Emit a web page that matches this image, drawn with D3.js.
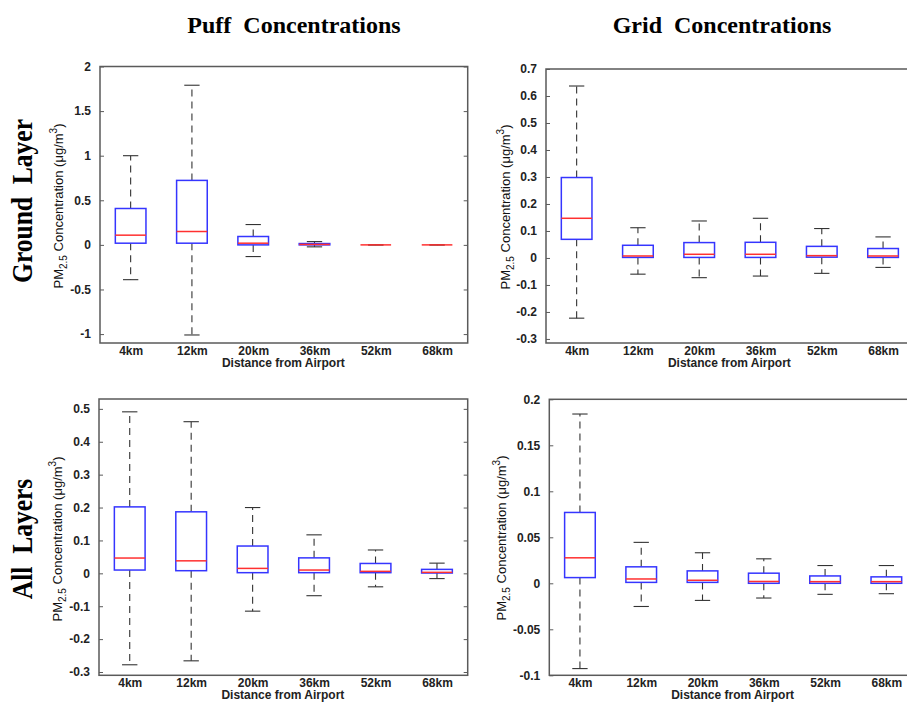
<!DOCTYPE html>
<html>
<head>
<meta charset="utf-8">
<script src="https://cdn.jsdelivr.net/npm/d3@7/dist/d3.min.js"></script>
<style>
  html, body { margin: 0; padding: 0; background: #fff; }
  svg { display: block; }
</style>
</head>
<body>
<script>
// ---------------- DATA ----------------
const categories = ["4km", "12km", "20km", "36km", "52km", "68km"];
const columnTitles = ["Puff  Concentrations", "Grid  Concentrations"];
const rowTitles = ["Ground  Layer", "All  Layers"];
const xAxisTitle = "Distance from Airport";

// Puff, Ground Layer
const puffGroundUpper  = [1.00, 1.79, 0.228, 0.037, 0, 0];
const puffGroundQ3     = [0.408, 0.723, 0.094, 0.015, 0, 0];
const puffGroundMedian = [0.109, 0.150, 0.019, 0.005, 0, 0];
const puffGroundQ1     = [0.019, 0.019, 0.000, 0.000, 0, 0];
const puffGroundLower  = [-0.39, -1.01, -0.131, -0.022, 0, 0];
const puffGroundTicks  = [-1, -0.5, 0, 0.5, 1, 1.5, 2];

// Grid, Ground Layer
const gridGroundUpper  = [0.637, 0.112, 0.137, 0.147, 0.109, 0.078];
const gridGroundQ3     = [0.298, 0.047, 0.057, 0.058, 0.043, 0.035];
const gridGroundMedian = [0.147, 0.0074, 0.0136, 0.0136, 0.0086, 0.0074];
const gridGroundQ1     = [0.069, 0.002, 0.002, 0.002, 0.003, 0.002];
const gridGroundLower  = [-0.223, -0.060, -0.073, -0.067, -0.057, -0.035];
const gridGroundTicks  = [-0.3, -0.2, -0.1, 0, 0.1, 0.2, 0.3, 0.4, 0.5, 0.6, 0.7];

// Puff, All Layers
const puffAllUpper  = [0.491, 0.461, 0.200, 0.117, 0.071, 0.031];
const puffAllQ3     = [0.202, 0.187, 0.083, 0.047, 0.030, 0.012];
const puffAllMedian = [0.0465, 0.038, 0.015, 0.010, 0.006, 0.003];
const puffAllQ1     = [0.010, 0.008, 0.002, 0.002, 0.002, 0.001];
const puffAllLower  = [-0.278, -0.266, -0.115, -0.068, -0.041, -0.016];
const puffAllTicks  = [-0.3, -0.2, -0.1, 0, 0.1, 0.2, 0.3, 0.4, 0.5];

// Grid, All Layers
const gridAllUpper  = [0.184, 0.0445, 0.0332, 0.0266, 0.0193, 0.0193];
const gridAllQ3     = [0.077, 0.0179, 0.0135, 0.0110, 0.0080, 0.0070];
const gridAllMedian = [0.0277, 0.0047, 0.0033, 0.0020, 0.0018, 0.0018];
const gridAllQ1     = [0.0062, 0.0010, 0.0010, 0.0000, 0.0000, 0.0000];
const gridAllLower  = [-0.0927, -0.0252, -0.0186, -0.0160, -0.0120, -0.0113];
const gridAllTicks  = [-0.1, -0.05, 0, 0.05, 0.1, 0.15, 0.2];

// ---------------- LAYOUT ----------------
const W = 907, H = 703;
const panels = [
  { upper: puffGroundUpper, q3: puffGroundQ3, med: puffGroundMedian, q1: puffGroundQ1, lower: puffGroundLower,
    ticks: puffGroundTicks, domain: [-1.1, 2.0], left: 100, width: 367.7, top: 66.5, bottom: 343, labelOff: 37, labelY: 206 },
  { upper: gridGroundUpper, q3: gridGroundQ3, med: gridGroundMedian, q1: gridGroundQ1, lower: gridGroundLower,
    ticks: gridGroundTicks, domain: [-0.315, 0.7], left: 546, width: 367.7, top: 69, bottom: 343, labelOff: 36, labelY: 207 },
  { upper: puffAllUpper, q3: puffAllQ3, med: puffAllMedian, q1: puffAllQ1, lower: puffAllLower,
    ticks: puffAllTicks, domain: [-0.31, 0.53], left: 99, width: 368.7, top: 399, bottom: 675.3, labelOff: 37, labelY: 539 },
  { upper: gridAllUpper, q3: gridAllQ3, med: gridAllMedian, q1: gridAllQ1, lower: gridAllLower,
    ticks: gridAllTicks, domain: [-0.1, 0.2], left: 549.3, width: 367.7, top: 399.3, bottom: 675.3, labelOff: 43, labelY: 538 }
];

const svg = d3.select("body").append("svg")
  .attr("width", W).attr("height", H)
  .attr("viewBox", `0 0 ${W} ${H}`);

const fmt = v => {
  const s = String(+v.toFixed(4));
  return s;
};

const sansFont = "'Liberation Sans', Arial, sans-serif";
const serifFont = "'Liberation Serif', 'Times New Roman', serif";

// Column titles
svg.append("text").attr("x", 294).attr("y", 33).attr("text-anchor", "middle")
  .attr("font-family", serifFont).attr("font-weight", "bold").attr("font-size", 24)
  .style("white-space", "pre").text(columnTitles[0]);
svg.append("text").attr("x", 722).attr("y", 33).attr("text-anchor", "middle")
  .attr("font-family", serifFont).attr("font-weight", "bold").attr("font-size", 24)
  .style("white-space", "pre").text(columnTitles[1]);

// Row titles (tall, condensed serif)
[[201, 32, rowTitles[0]], [539, 32, rowTitles[1]]].forEach(([cy, bx, t]) => {
  svg.append("text")
    .attr("transform", `translate(${bx},${cy}) rotate(-90) scale(0.88,1)`)
    .attr("text-anchor", "middle")
    .attr("font-family", serifFont).attr("font-weight", "bold").attr("font-size", 29)
    .style("white-space", "pre").text(t);
});

panels.forEach(p => {
  const x = d3.scaleLinear().domain([0.5, categories.length + 0.5]).range([p.left, p.left + p.width]);
  const y = d3.scaleLinear().domain(p.domain).range([p.bottom, p.top]);
  const g = svg.append("g");

  // Frame
  g.append("rect")
    .attr("x", p.left).attr("y", p.top)
    .attr("width", p.width).attr("height", p.bottom - p.top)
    .attr("fill", "none").attr("stroke", "#5a5a5a").attr("stroke-width", 1.5);

  // Left axis (inward ticks)
  const yAxisL = d3.axisLeft(y).tickValues(p.ticks).tickSizeInner(-4).tickSizeOuter(0)
    .tickPadding(9).tickFormat(fmt);
  const gl = g.append("g").attr("transform", `translate(${p.left},0)`).call(yAxisL);
  gl.select(".domain").remove();
  gl.selectAll(".tick line").attr("stroke", "#5a5a5a").attr("stroke-width", 1);
  gl.selectAll(".tick text").attr("font-family", sansFont).attr("font-weight", "bold")
    .attr("font-size", 12).attr("fill", "#222");

  // Right axis (inward ticks, no labels)
  const yAxisR = d3.axisRight(y).tickValues(p.ticks).tickSizeInner(-4).tickSizeOuter(0).tickFormat("");
  const gr = g.append("g").attr("transform", `translate(${p.left + p.width},0)`).call(yAxisR);
  gr.select(".domain").remove();
  gr.selectAll(".tick line").attr("stroke", "#5a5a5a").attr("stroke-width", 1);

  // Category labels
  const xAxis = d3.axisBottom(x).tickValues(d3.range(1, categories.length + 1))
    .tickSize(0).tickPadding(3).tickFormat(i => categories[i - 1]);
  const gx = g.append("g").attr("transform", `translate(0,${p.bottom})`).call(xAxis);
  gx.select(".domain").remove();
  gx.selectAll(".tick text").attr("font-family", sansFont).attr("font-weight", "bold")
    .attr("font-size", 12).attr("fill", "#222").attr("dy", "0.71em");

  // X axis title
  g.append("text").attr("x", p.left + p.width / 2 - 0.5).attr("y", p.bottom + 24)
    .attr("text-anchor", "middle").attr("font-family", sansFont).attr("font-weight", "bold")
    .attr("font-size", 12).attr("fill", "#222").text(xAxisTitle);

  // Y axis title
  const yl = g.append("text")
    .attr("transform", `translate(${p.left - p.labelOff},${p.labelY}) rotate(-90)`)
    .attr("text-anchor", "middle").attr("font-family", sansFont)
    .attr("font-size", 13).attr("fill", "#111");
  yl.append("tspan").text("PM");
  yl.append("tspan").attr("font-size", 10).attr("dy", 4).text("2.5");
  yl.append("tspan").attr("dy", -4).text(" Concentration (\u03bcg/m");
  yl.append("tspan").attr("font-size", 10).attr("dy", -6).text("3");
  yl.append("tspan").attr("dy", 6).text(")");

  const bw = 0.5, cw = 0.25;
  const idx = d3.range(categories.length);
  const plot = g.append("g");

  // Whiskers (dashed)
  plot.selectAll("line.wu").data(idx).join("line")
    .attr("x1", i => x(i + 1)).attr("x2", i => x(i + 1))
    .attr("y1", i => y(p.q3[i])).attr("y2", i => y(p.upper[i]))
    .attr("stroke", "#333").attr("stroke-width", 1.1).attr("stroke-dasharray", "7,5");
  plot.selectAll("line.wl").data(idx).join("line")
    .attr("x1", i => x(i + 1)).attr("x2", i => x(i + 1))
    .attr("y1", i => y(p.q1[i])).attr("y2", i => y(p.lower[i]))
    .attr("stroke", "#333").attr("stroke-width", 1.1).attr("stroke-dasharray", "7,5");
  // Caps
  [p.upper, p.lower].forEach(arr => {
    plot.append("g").selectAll("line").data(idx).join("line")
      .attr("x1", i => x(i + 1 - cw / 2)).attr("x2", i => x(i + 1 + cw / 2))
      .attr("y1", i => y(arr[i])).attr("y2", i => y(arr[i]))
      .attr("stroke", "#333").attr("stroke-width", 1.1);
  });
  // Boxes
  plot.append("g").selectAll("rect").data(idx).join("rect")
    .attr("x", i => x(i + 1 - bw / 2)).attr("width", i => x(i + 1 + bw / 2) - x(i + 1 - bw / 2))
    .attr("y", i => y(p.q3[i])).attr("height", i => y(p.q1[i]) - y(p.q3[i]))
    .attr("fill", "none").attr("stroke", "#3535ff").attr("stroke-width", 1.5);
  // Medians
  plot.append("g").selectAll("line").data(idx).join("line")
    .attr("x1", i => x(i + 1 - bw / 2)).attr("x2", i => x(i + 1 + bw / 2))
    .attr("y1", i => y(p.med[i])).attr("y2", i => y(p.med[i]))
    .attr("stroke", "#ff3030").attr("stroke-width", 1.5);
});
</script>
</body>
</html>
